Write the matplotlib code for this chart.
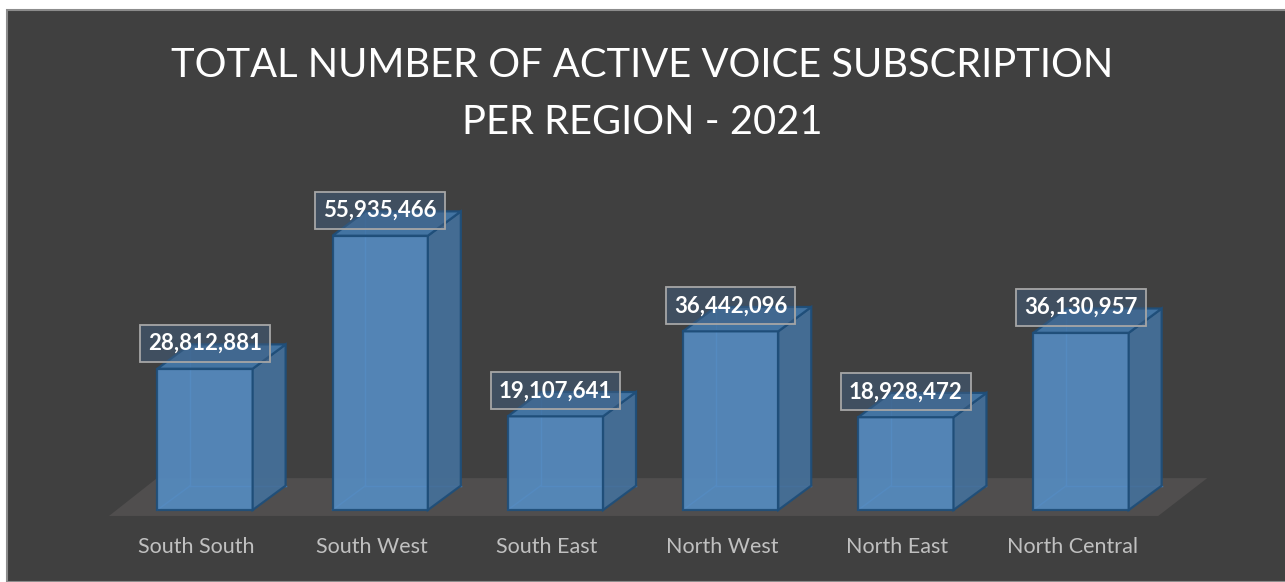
import matplotlib
matplotlib.use("Agg")
import matplotlib.pyplot as plt
from matplotlib.patches import Polygon, Rectangle

regions = ["South South", "South West", "South East", "North West", "North East", "North Central"]
subscriptions = [28812881, 55935466, 19107641, 36442096, 18928472, 36130957]
title_lines = ["TOTAL NUMBER OF ACTIVE VOICE SUBSCRIPTION", "PER REGION - 2021"]

W, H = 1285, 582
fig = plt.figure(figsize=(W / 100, H / 100), dpi=100, facecolor="white")

# dark chart background with border
fig.patches.append(Rectangle((7 / W, 0), 1 - 7 / W + 0.01, (H - 10) / H, transform=fig.transFigure,
                             facecolor="#404040", edgecolor="#8c8c8c", lw=1.5, zorder=-5))

ax = fig.add_axes([0, 0, 1, 1])
ax.set_zorder(1)
ax.patch.set_visible(False)
ax.set_xlim(-1.170, 6.164)
ax.set_ylim(-14.68e6, 104.0e6)
ax.axis("off")

bw = 0.544          # bar width (category units)
ddx = 0.188         # depth offset x
ddy = 4.96e6        # depth offset y
n = len(regions)

# floor
fl_front, fl_back = -1.22e6, 6.5e6
floor = Polygon([(-0.548, fl_front), (n - 0.56, fl_front), (n - 0.28, fl_back), (-0.274, fl_back)],
                closed=True, facecolor="#504e4e", edgecolor="none", zorder=1)
ax.add_patch(floor)

front_c = "#558bc0"
side_c = "#456f98"
top_c = "#4477a8"
edge_c = "#1f4e79"

for i, v in enumerate(subscriptions):
    x0, x1 = i - bw / 2, i + bw / 2
    # back/inner edges (visible through translucent faces)
    ax.plot([x0 + ddx, x0 + ddx], [ddy, v + ddy], color="#4a86c0", lw=1.0, zorder=2)
    ax.plot([x0 + ddx, x1 + ddx], [ddy, ddy], color="#4a86c0", lw=1.0, zorder=2)
    ax.plot([x0, x0 + ddx], [0, ddy], color="#4a86c0", lw=1.0, zorder=2)
    # front
    ax.add_patch(Polygon([(x0, 0), (x1, 0), (x1, v), (x0, v)], closed=True,
                         facecolor=front_c, edgecolor=edge_c, lw=1.6, alpha=0.92, zorder=3))
    # side
    ax.add_patch(Polygon([(x1, 0), (x1 + ddx, ddy), (x1 + ddx, v + ddy), (x1, v)], closed=True,
                         facecolor=side_c, edgecolor=edge_c, lw=1.6, alpha=0.95, zorder=3))
    # top
    ax.add_patch(Polygon([(x0, v), (x1, v), (x1 + ddx, v + ddy), (x0 + ddx, v + ddy)], closed=True,
                         facecolor=top_c, edgecolor=edge_c, lw=1.6, alpha=0.95, zorder=3))
    # value label
    ax.text(i, v + 3.87e6, f"{v:,}", ha="center", va="baseline", color="white",
            fontsize=16, fontweight="bold", family="Lato", zorder=5,
            bbox=dict(boxstyle="square,pad=0.36", fc=(0.25, 0.37, 0.5, 0.5), ec="#a6a6a6", lw=1.3))
    # category label
    ax.text(i - 0.05, -8.77e6, regions[i], ha="center", va="baseline", color="#c0c0c0",
            fontsize=15.5, family="Lato", zorder=5)

fig.text(0.5, 1 - 77 / H, title_lines[0], ha="center", va="baseline", color="white",
         fontsize=28.7, family="Lato")
fig.text(0.5, 1 - 134 / H, title_lines[1], ha="center", va="baseline", color="white",
         fontsize=28.7, family="Lato")

fig.savefig("out.png", dpi=100, facecolor="white")
